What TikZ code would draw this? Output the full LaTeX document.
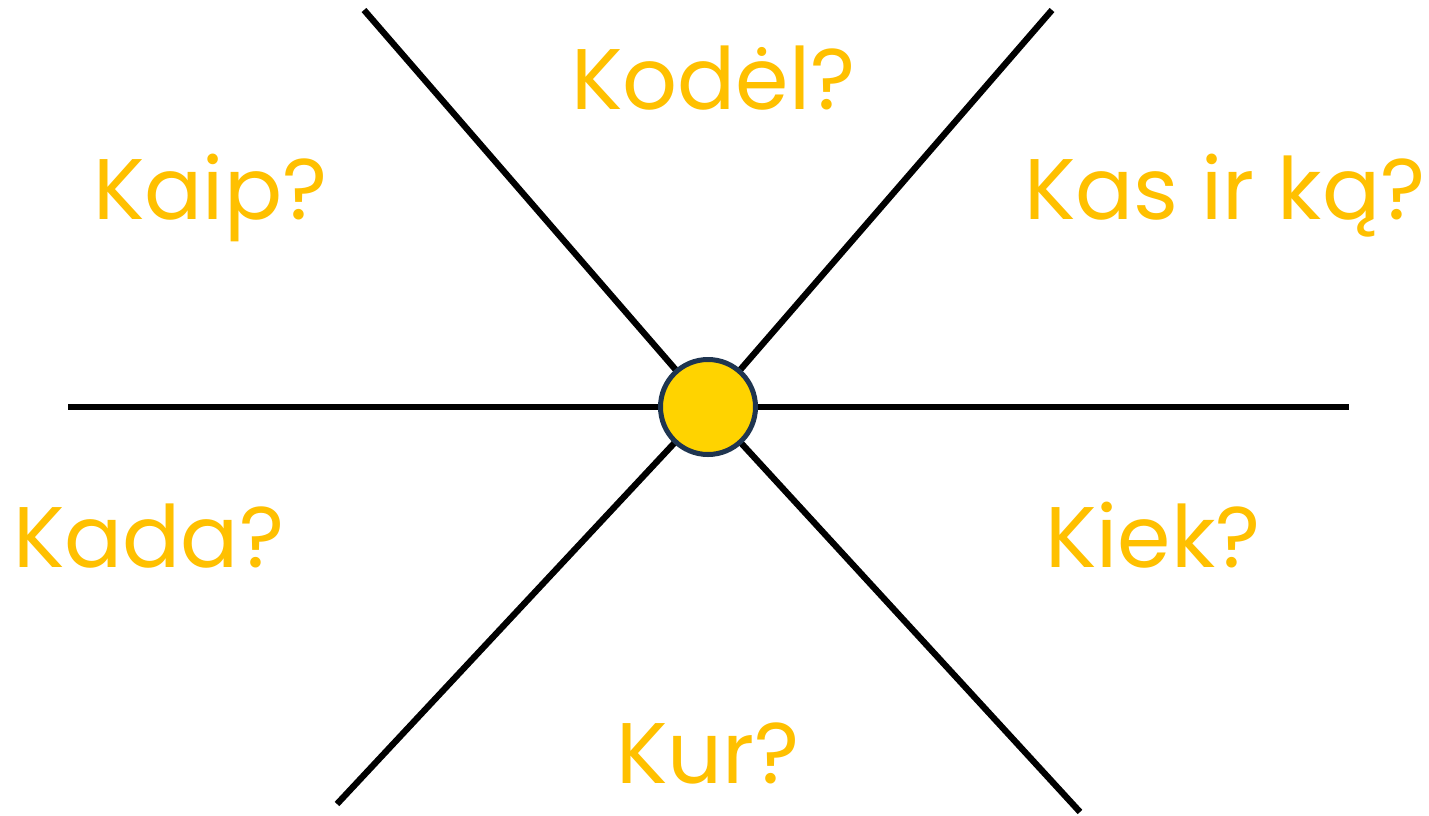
\documentclass[tikz,border=0pt]{standalone}
\usepackage{fontspec}
\setmainfont{Poppins}
\definecolor{txtyellow}{HTML}{FFC000}
\definecolor{dotfill}{HTML}{FFD300}
\definecolor{dotedge}{HTML}{1F3550}
\tikzset{
  spoke/.style={line width=6.3pt, black},
  label/.style={anchor=base west, inner sep=0pt, text=txtyellow, font=\fontsize{86}{86}\selectfont},
  hub/.style={circle, fill=dotfill, draw=dotedge, line width=5pt, minimum size=95pt, inner sep=0pt}
}
\begin{document}
\begin{tikzpicture}[x=1pt,y=-1pt]
\useasboundingbox (0,0) rectangle (1429,815);
\coordinate (c) at (708,407);
\coordinate (ul) at (364,10);
\coordinate (ur) at (1052,10);
\coordinate (l) at (68,407);
\coordinate (r) at (1349,407);
\coordinate (dl) at (337,804);
\coordinate (dr) at (1080,812);
\draw[spoke] (ul) -- (c);
\draw[spoke] (ur) -- (c);
\draw[spoke] (l) -- (r);
\draw[spoke] (dl) -- (c);
\draw[spoke] (dr) -- (c);
\node[hub] (hubnode) at (c) {};
\node[label] (kodel) at (571,109) {Kodėl?};
\node[label] (kaip) at (93,219) {Kaip?};
\node[label] (kas) at (1024,219) {Kas ir ką?};
\node[label] (kada) at (13,567) {Kada?};
\node[label] (kiek) at (1045,567) {Kiek?};
\node[label] (kur) at (616,783) {Kur?};
\end{tikzpicture}
\end{document}
